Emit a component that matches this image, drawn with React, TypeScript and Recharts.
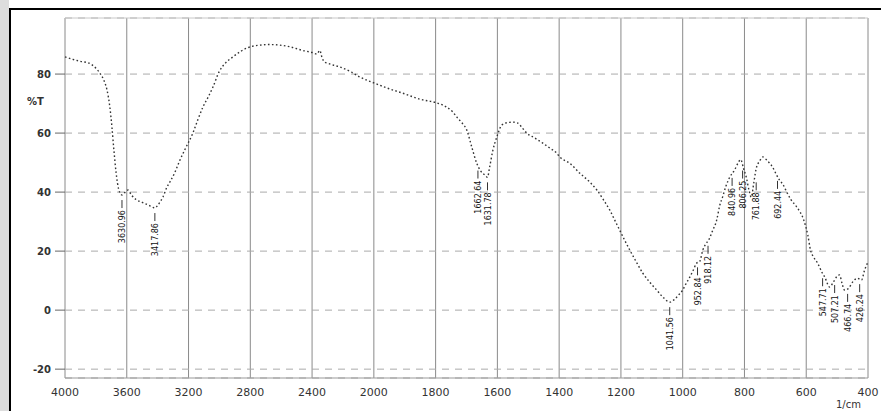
import React from "react";
import {
  LineChart,
  Line,
  XAxis,
  YAxis,
  CartesianGrid,
  ReferenceDot,
  ReferenceLine,
} from "recharts";

// Wavenumbers (1/cm) and transmittance (%T)
const wavenumbers = [
  4000, 3950, 3900, 3850, 3800, 3770, 3745, 3728, 3710, 3696, 3683, 3670, 3660,
  3645, 3630, 3610, 3592, 3570, 3540, 3500, 3460, 3430, 3418, 3400, 3380, 3366,
  3340, 3320, 3290, 3256, 3220, 3172, 3140, 3107, 3070, 3042, 3000, 2960, 2913,
  2860, 2822, 2780, 2738, 2680, 2608, 2540, 2460, 2400, 2369, 2350, 2335, 2318,
  2300, 2260, 2220, 2150, 2091, 2040, 2000, 1958, 1906, 1851, 1796, 1764, 1745,
  1731, 1715, 1699, 1683, 1667, 1655, 1641, 1632, 1625, 1615, 1602, 1586, 1570,
  1550, 1534, 1520, 1505, 1480, 1453, 1430, 1408, 1398, 1366, 1333, 1300, 1278,
  1256, 1236, 1220, 1204, 1188, 1171, 1150, 1129, 1107, 1084, 1062, 1042, 1025,
  1010, 1000, 990, 977, 966, 955, 945, 935, 925, 916, 905, 890, 880, 871, 860,
  848, 832, 820, 812, 803, 794, 785, 778, 770, 762, 751, 741, 725, 709, 697, 686,
  675, 663, 650, 631, 608, 595, 586, 575, 563, 550, 540, 524, 515, 508, 500, 492,
  484, 476, 465, 460, 450, 434, 421, 411, 400,
];

const transmittance = [
  85.8, 85.0, 84.3, 83.8, 82.0, 80.0, 77.5, 74.6, 69.0, 62.0, 54.0, 47.0, 43.0,
  39.8, 39.0, 40.0, 40.7, 39.0, 37.5, 36.5, 35.6, 34.8, 34.6, 35.5, 37.0, 38.3,
  41.7, 43.5, 46.5, 50.8, 54.8, 60.0, 64.5, 68.8, 72.5, 75.6, 81.0, 83.8, 85.8,
  87.8, 88.8, 89.5, 89.8, 90.0, 89.8, 89.2, 88.0, 87.3, 86.8, 88.0, 85.5, 84.0,
  83.7, 83.0, 82.4, 80.8, 79.0, 77.8, 77.0, 75.3, 73.5, 71.5, 70.2, 68.8, 67.2,
  65.4, 63.5, 61.0, 55.3, 49.8, 47.3, 45.8, 45.0, 48.5, 54.0, 58.6, 62.7, 63.5,
  63.7, 63.4, 61.8, 60.0, 58.4, 56.6, 54.9, 53.2, 51.9, 49.8, 46.4, 43.3, 40.7,
  37.3, 33.9, 30.5, 27.1, 23.7, 20.3, 16.3, 12.5, 9.5, 6.8, 4.2, 2.7, 3.8,
  5.5, 6.8, 8.8, 11.2, 13.5, 15.9, 16.5, 20.3, 22.5, 23.7, 26.5, 30.5, 35.5, 38.3, 42.0,
  45.0, 47.5, 50.0, 51.0, 48.0, 45.0, 40.5, 38.3, 43.0, 48.0, 50.5, 51.9, 50.5, 48.5, 46.0, 44.0,
  42.5, 40.0, 37.5, 35.0, 30.5, 25.5, 20.3, 17.8, 15.9, 13.0, 11.2, 7.8, 9.0, 10.2, 11.5, 11.9,
  9.0, 6.8, 7.2, 7.8, 9.5, 10.8, 10.2, 13.6, 16.3,
];

// Axis ticks
const xTickWavenumbers = [4000, 3600, 3200, 2800, 2400, 2000, 1800, 1600, 1400, 1200, 1000, 800, 600, 400];
const yTicks = [-20, 0, 20, 40, 60, 80];

// Peak annotations
const peakWavenumbers = [3631, 3418, 1663, 1632, 1042, 952, 918, 840, 806, 762, 693, 547, 508, 466, 427];
const peakTransmittance = [39.0, 34.6, 49.0, 45.0, 2.7, 16.2, 23.5, 46.5, 49.0, 45.0, 45.5, 12.5, 10.2, 7.2, 10.5];
const peakLabels = [
  "3630.96", "3417.86", "1662.64", "1631.78", "1041.56", "952.84", "918.12",
  "840.96", "806.25", "761.88", "692.44", "547.71", "507.21", "466.74", "426.24",
];

// Spectrometer axis: 2x expansion below 2000 1/cm
const toP = (w: number) => (w >= 2000 ? 4000 - w : 2000 + 2 * (2000 - w));
const fromP = (p: number) => (p <= 2000 ? 4000 - p : 2000 - (p - 2000) / 2);

const data = wavenumbers.map((w, i) => ({ p: toP(w), t: transmittance[i] }));

const PeakMark = (label: string) => (props: any) => {
  const { cx, cy } = props;
  if (cx == null || cy == null) return null;
  return (
    <g>
      <line x1={cx} y1={cy + 5} x2={cx} y2={cy + 13} stroke="#333" strokeWidth={1} />
      <text
        transform={`translate(${cx + 3},${cy + 15}) rotate(-90)`}
        textAnchor="end"
        fontSize={8}
        fontFamily="DejaVu Sans"
        fill="#111"
      >
        {label}
      </text>
    </g>
  );
};

export default function App() {
  return (
    <div
      style={{
        position: "absolute",
        left: 0,
        top: 0,
        width: 881,
        height: 411,
        background: "#fff",
        overflow: "hidden",
      }}
    >
      <LineChart
        width={881}
        height={411}
        data={data}
        margin={{ top: 18, right: 13, left: 0, bottom: 0 }}
      >
        <CartesianGrid horizontal={false} vertical={true} stroke="#8a8a8a" />
        <CartesianGrid horizontal={true} vertical={false} stroke="#aaa" strokeDasharray="7 6" />
        <ReferenceLine y={99} stroke="#c8c8c8" />
        <XAxis
          type="number"
          dataKey="p"
          domain={[0, 5200]}
          ticks={xTickWavenumbers.map(toP)}
          tickFormatter={(p: number) => String(Math.round(fromP(p)))}
          height={33}
          tickLine={false}
          tickMargin={4}
          axisLine={{ stroke: "#999" }}
          tick={{ fontSize: 11, fontFamily: "DejaVu Sans", fill: "#333" }}
          interval={0}
        />
        <YAxis
          type="number"
          domain={[-23, 99]}
          ticks={yTicks}
          width={65}
          axisLine={false}
          tickLine={{ stroke: "#666" }}
          tickSize={10}
          tickMargin={4}
          tick={{ fontSize: 10, fontFamily: "DejaVu Sans", fill: "#333", fontWeight: "bold" }}
          interval={0}
        />
        <Line
          type="monotone"
          dataKey="t"
          stroke="#333"
          strokeWidth={1.4}
          strokeDasharray="1.6 2.4"
          dot={false}
          isAnimationActive={false}
        />
        {peakWavenumbers.map((w, i) => (
          <ReferenceDot
            key={w}
            x={toP(w)}
            y={peakTransmittance[i]}
            r={0}
            shape={PeakMark(peakLabels[i])}
          />
        ))}
      </LineChart>
      <div
        style={{
          position: "absolute",
          left: 27,
          top: 96,
          fontFamily: "DejaVu Sans",
          fontSize: 10,
          fontWeight: "bold",
          color: "#333",
        }}
      >
        %T
      </div>
      <div
        style={{
          position: "absolute",
          left: 836,
          top: 399,
          fontFamily: "DejaVu Sans",
          fontSize: 10,
          color: "#333",
        }}
      >
        1/cm
      </div>
      <div style={{ position: "absolute", left: 0, top: 0, width: 9, height: 411, background: "#ddd" }} />
      <div style={{ position: "absolute", left: 9, top: 8, width: 872, height: 2, background: "#000" }} />
      <div style={{ position: "absolute", left: 9, top: 8, width: 2, height: 403, background: "#000" }} />
    </div>
  );
}
